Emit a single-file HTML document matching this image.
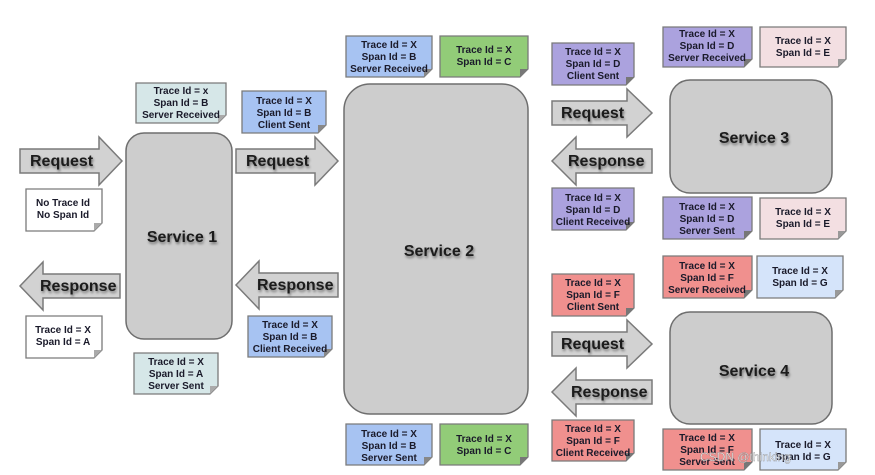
<!DOCTYPE html>
<html><head><meta charset="utf-8"><style>
html,body{margin:0;padding:0;background:#fff;}
svg{display:block;font-family:"Liberation Sans",sans-serif;}
.n text{font-size:10px;font-weight:bold;fill:#1a1a2a;text-anchor:middle;}
.a{fill:#d2d2d2;stroke:#7a7a7a;stroke-width:1.5;}
.at{font-size:16px;font-weight:bold;fill:#1a1a1a;}
.s{fill:#cdcdcd;stroke:#6e6e6e;stroke-width:1.5;}
.st{font-size:16px;font-weight:bold;fill:#1a1a1a;text-anchor:middle;}
.nb{stroke:#7a7a7a;stroke-width:1.3;}
</style></head><body>
<svg width="875" height="475" viewBox="0 0 875 475">
<defs>
<filter id="sh" x="-10%" y="-30%" width="130%" height="170%"><feDropShadow dx="1" dy="2" stdDeviation="1.2" flood-color="#000" flood-opacity="0.45"/></filter>
</defs>

<!-- services -->
<rect class="s" x="126" y="133" width="106" height="206" rx="18"/>
<text class="st" x="182" y="242" filter="url(#sh)">Service 1</text>
<rect class="s" x="344" y="84" width="184" height="330" rx="26"/>
<text class="st" x="439" y="256" filter="url(#sh)">Service 2</text>
<rect class="s" x="670" y="80" width="162" height="113" rx="20"/>
<text class="st" x="754" y="143" filter="url(#sh)">Service 3</text>
<rect class="s" x="670" y="312" width="162" height="112" rx="20"/>
<text class="st" x="754" y="376" filter="url(#sh)">Service 4</text>

<!-- arrows right -->
<path class="a" d="M20,149 H99 V137 L122,161 L99,185 V173 H20 Z"/>
<text class="at" x="30" y="166" filter="url(#sh)">Request</text>
<path class="a" d="M236,149 H315 V137 L338,161 L315,185 V173 H236 Z"/>
<text class="at" x="246" y="166" filter="url(#sh)">Request</text>
<path class="a" d="M552,101 H627 V89 L652,113 L627,137 V125 H552 Z"/>
<text class="at" x="561" y="118" filter="url(#sh)">Request</text>
<path class="a" d="M552,332 H627 V320 L652,344 L627,368 V356 H552 Z"/>
<text class="at" x="561" y="349" filter="url(#sh)">Request</text>
<!-- arrows left -->
<path class="a" d="M120,274 H43 V262 L20,286 L43,310 V298 H120 Z"/>
<text class="at" x="40" y="291" filter="url(#sh)">Response</text>
<path class="a" d="M338,273 H259 V261 L236,285 L259,309 V297 H338 Z"/>
<text class="at" x="257" y="290" filter="url(#sh)">Response</text>
<path class="a" d="M652,149 H576 V137 L552,161 L576,185 V173 H652 Z"/>
<text class="at" x="568" y="166" filter="url(#sh)">Response</text>
<path class="a" d="M652,380 H576 V368 L552,392 L576,416 V404 H652 Z"/>
<text class="at" x="571" y="397" filter="url(#sh)">Response</text>

<!-- notes -->
<g class="n">
<!-- helper: note with folded corner -->
<path class="nb" fill="#d6e7e8" d="M136,83 H226 V115 L218,123 H136 Z"/><path fill="#aaa" d="M226,115 L218,123 L218,115Z"/>
<text x="181" y="94">Trace Id = x</text><text x="181" y="106">Span Id = B</text><text x="181" y="118">Server Received</text>

<path class="nb" fill="#a7c3f2" d="M242,91 H326 V125 L318,133 H242 Z"/><path fill="#888" d="M326,125 L318,133 L318,125Z"/>
<text x="284" y="104">Trace Id = X</text><text x="284" y="116">Span Id = B</text><text x="284" y="128">Client Sent</text>

<path class="nb" fill="#fff" d="M26,189 H102 V223 L94,231 H26 Z"/><path fill="#aaa" d="M102,223 L94,231 L94,223Z"/>
<text x="63" y="206">No Trace Id</text><text x="63" y="218">No Span Id</text>

<path class="nb" fill="#fff" d="M26,316 H102 V350 L94,358 H26 Z"/><path fill="#aaa" d="M102,350 L94,358 L94,350Z"/>
<text x="63" y="333">Trace Id = X</text><text x="63" y="345">Span Id = A</text>

<path class="nb" fill="#d6e7e8" d="M134,353 H218 V386 L210,394 H134 Z"/><path fill="#aaa" d="M218,386 L210,394 L210,386Z"/>
<text x="176" y="365">Trace Id = X</text><text x="176" y="377">Span Id = A</text><text x="176" y="389">Server Sent</text>

<path class="nb" fill="#a7c3f2" d="M248,316 H332 V349 L324,357 H248 Z"/><path fill="#888" d="M332,349 L324,357 L324,349Z"/>
<text x="290" y="328">Trace Id = X</text><text x="290" y="340">Span Id = B</text><text x="290" y="352">Client Received</text>

<path class="nb" fill="#a7c3f2" d="M346,36 H432 V69 L424,77 H346 Z"/><path fill="#888" d="M432,69 L424,77 L424,69Z"/>
<text x="389" y="48">Trace Id = X</text><text x="389" y="60">Span Id = B</text><text x="389" y="72">Server Received</text>

<path class="nb" fill="#92cc78" d="M440,36 H528 V69 L520,77 H440 Z"/><path fill="#777" d="M528,69 L520,77 L520,69Z"/>
<text x="484" y="53">Trace Id = X</text><text x="484" y="65">Span Id = C</text>

<path class="nb" fill="#a7c3f2" d="M346,424 H432 V457 L424,465 H346 Z"/><path fill="#888" d="M432,457 L424,465 L424,457Z"/>
<text x="389" y="437">Trace Id = X</text><text x="389" y="449">Span Id = B</text><text x="389" y="461">Server Sent</text>

<path class="nb" fill="#92cc78" d="M440,424 H528 V457 L520,465 H440 Z"/><path fill="#777" d="M528,457 L520,465 L520,457Z"/>
<text x="484" y="442">Trace Id = X</text><text x="484" y="454">Span Id = C</text>

<!-- service 3 -->
<path class="nb" fill="#aba2de" d="M552,43 H634 V77 L626,85 H552 Z"/><path fill="#777" d="M634,77 L626,85 L626,77Z"/>
<text x="593" y="55">Trace Id = X</text><text x="593" y="67">Span Id = D</text><text x="593" y="79">Client Sent</text>

<path class="nb" fill="#aba2de" d="M663,27 H752 V59 L744,67 H663 Z"/><path fill="#777" d="M752,59 L744,67 L744,59Z"/>
<text x="707" y="37">Trace Id = X</text><text x="707" y="49">Span Id = D</text><text x="707" y="61">Server Received</text>

<path class="nb" fill="#f3dfe2" d="M760,27 H846 V59 L838,67 H760 Z"/><path fill="#999" d="M846,59 L838,67 L838,59Z"/>
<text x="803" y="44">Trace Id = X</text><text x="803" y="56">Span Id = E</text>

<path class="nb" fill="#aba2de" d="M552,188 H634 V222 L626,230 H552 Z"/><path fill="#777" d="M634,222 L626,230 L626,222Z"/>
<text x="593" y="201">Trace Id = X</text><text x="593" y="213">Span Id = D</text><text x="593" y="225">Client Received</text>

<path class="nb" fill="#aba2de" d="M663,197 H752 V231 L744,239 H663 Z"/><path fill="#777" d="M752,231 L744,239 L744,231Z"/>
<text x="707" y="210">Trace Id = X</text><text x="707" y="222">Span Id = D</text><text x="707" y="234">Server Sent</text>

<path class="nb" fill="#f3dfe2" d="M760,198 H846 V231 L838,239 H760 Z"/><path fill="#999" d="M846,231 L838,239 L838,231Z"/>
<text x="803" y="215">Trace Id = X</text><text x="803" y="227">Span Id = E</text>

<!-- service 4 -->
<path class="nb" fill="#f0908e" d="M552,274 H634 V308 L626,316 H552 Z"/><path fill="#777" d="M634,308 L626,316 L626,308Z"/>
<text x="593" y="286">Trace Id = X</text><text x="593" y="298">Span Id = F</text><text x="593" y="310">Client Sent</text>

<path class="nb" fill="#f0908e" d="M663,256 H752 V290 L744,298 H663 Z"/><path fill="#777" d="M752,290 L744,298 L744,290Z"/>
<text x="707" y="269">Trace Id = X</text><text x="707" y="281">Span Id = F</text><text x="707" y="293">Server Received</text>

<path class="nb" fill="#d5e4fa" d="M757,256 H843 V290 L835,298 H757 Z"/><path fill="#999" d="M843,290 L835,298 L835,290Z"/>
<text x="800" y="274">Trace Id = X</text><text x="800" y="286">Span Id = G</text>

<path class="nb" fill="#f0908e" d="M552,420 H634 V453 L626,461 H552 Z"/><path fill="#777" d="M634,453 L626,461 L626,453Z"/>
<text x="593" y="432">Trace Id = X</text><text x="593" y="444">Span Id = F</text><text x="593" y="456">Client Received</text>

<path class="nb" fill="#f0908e" d="M663,429 H752 V462 L744,470 H663 Z"/><path fill="#777" d="M752,462 L744,470 L744,462Z"/>
<text x="707" y="441">Trace Id = X</text><text x="707" y="453">Span Id = F</text><text x="707" y="465">Server Sent</text>

<path class="nb" fill="#d5e4fa" d="M760,429 H846 V462 L838,470 H760 Z"/><path fill="#999" d="M846,462 L838,470 L838,462Z"/>
<text x="803" y="448">Trace Id = X</text><text x="803" y="460">Span Id = G</text>
</g>
<text x="700" y="461" font-size="12" fill="#fff" stroke="#888" stroke-width="0.4" opacity="0.85">CSDN @thinking</text>
</svg>
</body></html>
